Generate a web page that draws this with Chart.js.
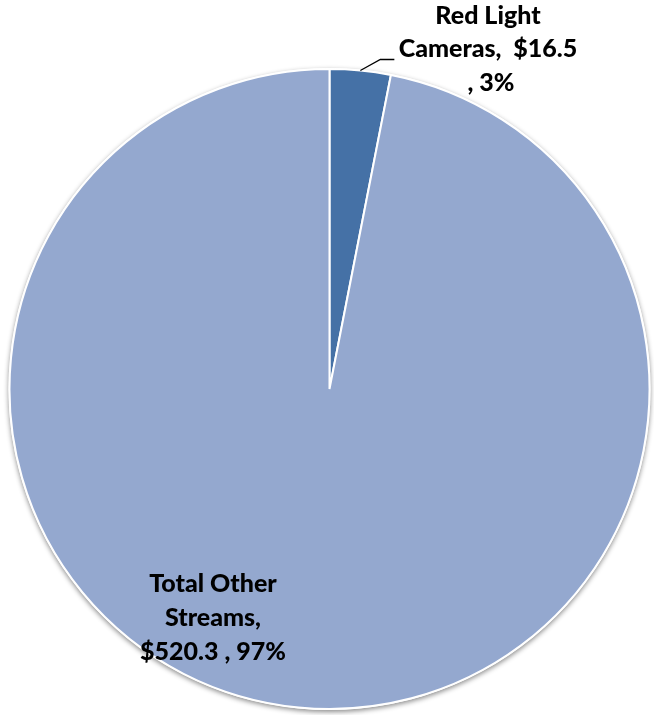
<!DOCTYPE html>
<html>
<head>
<meta charset="utf-8">
<script src="https://cdn.jsdelivr.net/npm/chart.js@4"></script>
<style>
html,body{margin:0;padding:0;background:#fff;}
#wrap{width:654px;height:715px;position:relative;}
</style>
</head>
<body>
<div id="wrap"><canvas id="c"></canvas></div>
<script>
const categories = ["Red Light Cameras", "Total Other Streams"];
const values = [16.5, 520.3];
const percents = ["3%", "97%"];
const labelLines = [
  ["Red Light", "Cameras,  $16.5", ", 3%"],
  ["Total Other", "Streams,", "$520.3 , 97%"]
];
const colors = ["#4571A6", "#94A8CF"];

const shadowPlugin = {
  id: 'shadow',
  beforeDatasetsDraw(chart) {
    const arc = chart.getDatasetMeta(0).data[0];
    if (!arc) return;
    const ctx = chart.ctx;
    ctx.save();
    ctx.shadowColor = 'rgba(0,0,0,0.45)';
    ctx.shadowBlur = 5;
    ctx.shadowOffsetY = 2;
    ctx.beginPath();
    ctx.arc(arc.x, arc.y, arc.outerRadius + 1, 0, Math.PI * 2);
    ctx.fillStyle = '#ffffff';
    ctx.fill();
    ctx.restore();
  }
};

const labelPlugin = {
  id: 'labels',
  afterDatasetsDraw(chart) {
    const ctx = chart.ctx;
    const meta = chart.getDatasetMeta(0);
    ctx.save();
    ctx.font = '900 25px Lato';
    ctx.fillStyle = '#000';
    ctx.textAlign = 'center';
    ctx.textBaseline = 'alphabetic';
    const a0 = meta.data[0];
    const mid0 = (a0.startAngle + a0.endAngle) / 2;
    const sx = a0.x + Math.cos(mid0) * a0.outerRadius;
    const sy = a0.y + Math.sin(mid0) * a0.outerRadius;
    ctx.strokeStyle = '#000';
    ctx.lineWidth = 1.3;
    ctx.beginPath();
    ctx.moveTo(sx, sy);
    ctx.lineTo(sx + 20, sy - 11);
    ctx.lineTo(sx + 34, sy - 11);
    ctx.stroke();
    const l0 = labelLines[0];
    ctx.fillText(l0[0], 488, 24);
    ctx.fillText(l0[1], 488, 57);
    ctx.fillText(l0[2], 491, 91);
    const l1 = labelLines[1];
    ctx.fillText(l1[0], 213, 592);
    ctx.fillText(l1[1], 213, 626);
    ctx.fillText(l1[2], 213, 660);
    ctx.restore();
  }
};

new Chart(document.getElementById('c'), {
  type: 'pie',
  data: {
    labels: categories,
    datasets: [{
      data: values,
      backgroundColor: colors,
      borderColor: '#ffffff',
      borderWidth: 2
    }]
  },
  options: {
    responsive: true,
    maintainAspectRatio: false,
    animation: false,
    layout: { padding: { left: 8, right: 3, top: 68, bottom: 5 } },
    plugins: { legend: { display: false }, tooltip: { enabled: false } }
  },
  plugins: [shadowPlugin, labelPlugin]
});
</script>
</body>
</html>
